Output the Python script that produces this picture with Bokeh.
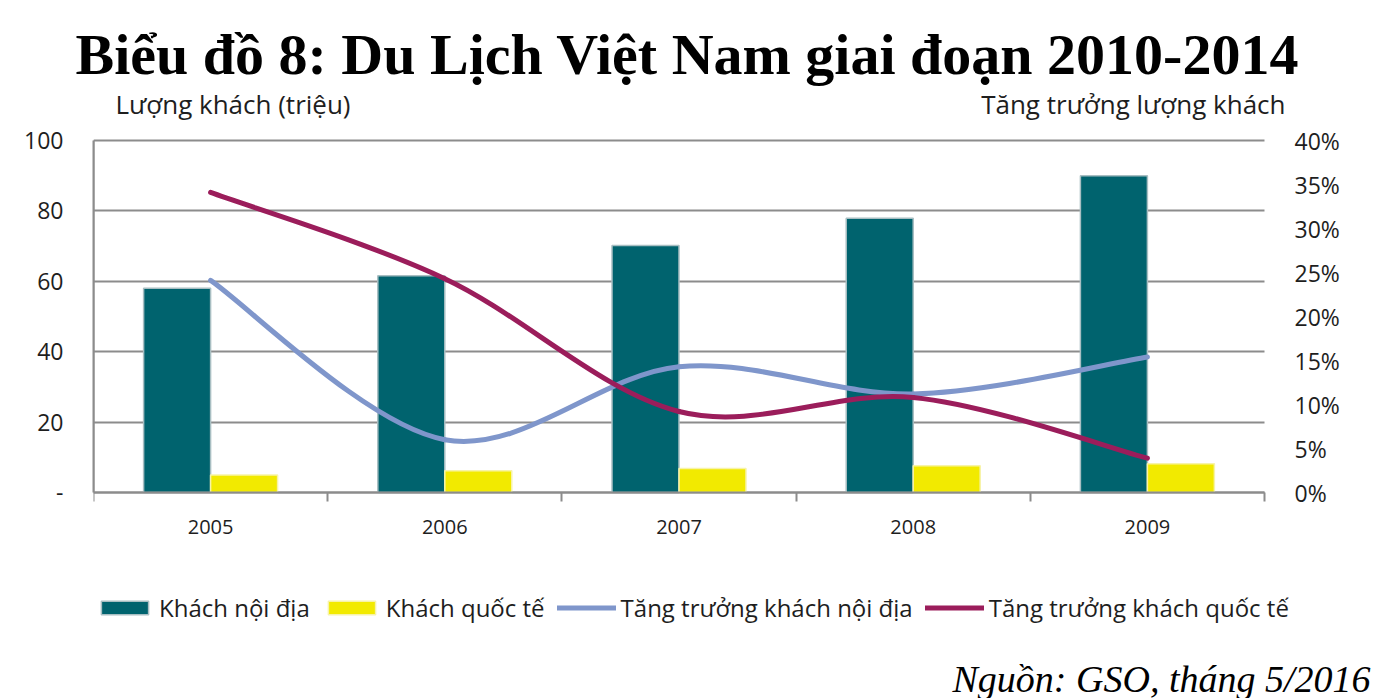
from bokeh.plotting import figure
from bokeh.models import (Range1d, LinearAxis, FixedTicker, NumeralTickFormatter,
                          Legend, LegendItem, ColumnDataSource, Title, Label)
from bokeh.transform import dodge
from bokeh.embed import file_html
from bokeh.resources import INLINE

# ---------------- data ----------------
years = ["2005", "2006", "2007", "2008", "2009"]
domestic = [58.0, 61.6, 70.2, 77.9, 90.0]          # Khách nội địa (triệu)
international = [5.0, 6.2, 6.8, 7.6, 8.2]          # Khách quốc tế (triệu)
growth_domestic = [0.241, 0.060, 0.143, 0.112, 0.154]       # Tăng trưởng khách nội địa
growth_international = [0.341, 0.243, 0.092, 0.108, 0.039]  # Tăng trưởng khách quốc tế
left_ticks = [0, 20, 40, 60, 80, 100]
right_ticks = [0.0, 0.05, 0.10, 0.15, 0.20, 0.25, 0.30, 0.35, 0.40]
axis_titles = ["Lượng khách (triệu)", "Tăng trưởng lượng khách"]

TEAL = "#00636E"
YELLOW = "#F2EA00"
BLUE = "#7F96CB"
RED = "#9B1D5B"
GRID = "#8C8C8C"
TXT = "#1E1E1E"

# layout geometry (pixels)
W, H = 1379, 698
LEFT, FRAME_TOP = 93, 90
PLOT_TOP, PLOT_BOTTOM = 140, 492
PLOT_W = 1171
PLOT_H = PLOT_BOTTOM - PLOT_TOP
FRAME_W, FRAME_H = W - LEFT, H - FRAME_TOP

n = len(years)
x_end = n * FRAME_W / PLOT_W
y_end = 100.0 * (1 + (PLOT_TOP - FRAME_TOP) / PLOT_H)
y_start = -100.0 * (H - PLOT_BOTTOM) / PLOT_H

centers = [i + 0.5 for i in range(n)]
bar_src = ColumnDataSource(dict(x=centers, dom=domestic, intl=international))


def smooth_segments(xs, ys):
    """Catmull-Rom -> cubic Bezier control points (Excel-like smoothed line)."""
    m = len(xs)
    d = dict(x0=[], y0=[], x1=[], y1=[], cx0=[], cy0=[], cx1=[], cy1=[])
    for i in range(m - 1):
        xp, yp = (xs[i - 1], ys[i - 1]) if i > 0 else (xs[i], ys[i])
        xn, yn = (xs[i + 2], ys[i + 2]) if i + 2 < m else (xs[i + 1], ys[i + 1])
        d["x0"].append(xs[i]); d["y0"].append(ys[i])
        d["x1"].append(xs[i + 1]); d["y1"].append(ys[i + 1])
        d["cx0"].append(xs[i] + (xs[i + 1] - xp) / 6.0)
        d["cy0"].append(ys[i] + (ys[i + 1] - yp) / 6.0)
        d["cx1"].append(xs[i + 1] - (xn - xs[i]) / 6.0)
        d["cy1"].append(ys[i + 1] - (yn - ys[i]) / 6.0)
    return ColumnDataSource(d)


p = figure(frame_width=FRAME_W, frame_height=FRAME_H,
           x_range=Range1d(0, x_end), y_range=Range1d(y_start, y_end),
           output_backend="svg", toolbar_location=None, title=None,
           min_border_left=LEFT, min_border_right=0, min_border_top=FRAME_TOP, min_border_bottom=0)
p.background_fill_color = "white"
p.border_fill_color = "white"
p.outline_line_color = None
p.extra_y_ranges = {"right": Range1d(y_start * 0.004, y_end * 0.004)}
p.xgrid.visible = False
p.ygrid.visible = False

# x axis drawn at value 0
xa = p.xaxis[0]
xa.fixed_location = 0
xa.bounds = (0, n)
xa.ticker = FixedTicker(ticks=centers, minor_ticks=list(range(n + 1)))
xa.major_label_overrides = {c: y for c, y in zip(centers, years)}
xa.axis_line_color = GRID
xa.axis_line_width = 2
xa.major_tick_line_color = None
xa.major_tick_out = 0
xa.major_tick_in = 0
xa.minor_tick_line_color = GRID
xa.minor_tick_line_width = 2
xa.minor_tick_out = 9
xa.minor_tick_in = 0
xa.major_label_standoff = 18
xa.major_label_text_font = "Open Sans"
xa.major_label_text_font_size = "20px"
xa.major_label_text_color = TXT

# left axis with the tick labels
ya = p.yaxis[0]
ya.bounds = (0, 100)
ya.ticker = FixedTicker(ticks=left_ticks)
ya.major_label_overrides = {0: "-"}
ya.axis_line_color = GRID
ya.axis_line_width = 2
ya.major_tick_line_color = None
ya.major_tick_out = 0
ya.major_tick_in = 0
ya.minor_tick_line_color = None
ya.major_label_standoff = 30
ya.major_label_text_font = "Open Sans"
ya.major_label_text_font_size = "23px"
ya.major_label_text_color = TXT

# helper axis under the glyphs: its long inward ticks are the horizontal gridlines
ga = LinearAxis(fixed_location=0, level="underlay", bounds=(0, 100),
                ticker=FixedTicker(ticks=left_ticks))
ga.axis_line_color = GRID
ga.axis_line_width = 2
ga.major_tick_line_color = GRID
ga.major_tick_line_width = 2
ga.major_tick_out = 0
ga.major_tick_in = PLOT_W
ga.minor_tick_line_color = None
ga.major_label_standoff = 0
ga.major_label_text_font_size = "0px"
ga.major_label_text_alpha = 0
p.add_layout(ga, "left")

ra = LinearAxis(y_range_name="right", ticker=FixedTicker(ticks=right_ticks),
                formatter=NumeralTickFormatter(format="0%"), fixed_location=n, bounds=(0, 0.4))
ra.axis_line_color = None
ra.major_tick_line_color = None
ra.minor_tick_line_color = None
ra.major_tick_out = 0
ra.major_tick_in = 0
ra.major_label_standoff = 30
ra.major_label_text_font = "Open Sans"
ra.major_label_text_font_size = "23px"
ra.major_label_text_color = TXT
p.add_layout(ra, "right")

main_title = Title(text="Biểu đồ 8: Du Lịch Việt Nam giai đoạn 2010-2014", align="left",
                   text_font="Liberation Serif", text_font_style="bold", text_font_size="58px",
                   text_color="black", standoff=8, offset=-18)
p.add_layout(main_title, "above")

bw = 0.286
r_dom = p.vbar(x=dodge("x", -bw / 2, range=p.x_range), top="dom", width=bw, source=bar_src,
               fill_color=TEAL, line_color="#A8BEC2", line_width=1.5)
r_int = p.vbar(x=dodge("x", bw / 2, range=p.x_range), top="intl", width=bw, source=bar_src,
               fill_color=YELLOW, line_color="#F7F3A8", line_width=1.5)

r_gd = p.bezier(x0="x0", y0="y0", x1="x1", y1="y1", cx0="cx0", cy0="cy0", cx1="cx1", cy1="cy1",
                source=smooth_segments(centers, growth_domestic), y_range_name="right",
                line_color=BLUE, line_width=5, line_cap="round")
r_gi = p.bezier(x0="x0", y0="y0", x1="x1", y1="y1", cx0="cx0", cy0="cy0", cx1="cx1", cy1="cy1",
                source=smooth_segments(centers, growth_international), y_range_name="right",
                line_color=RED, line_width=5, line_cap="round")

legend = Legend(items=[
    LegendItem(label="Khách nội địa", renderers=[r_dom]),
    LegendItem(label="Khách quốc tế", renderers=[r_int]),
    LegendItem(label="Tăng trưởng khách nội địa", renderers=[r_gd]),
    LegendItem(label="Tăng trưởng khách quốc tế", renderers=[r_gi]),
], orientation="horizontal", location=(2, 74))
legend.border_line_color = None
legend.background_fill_alpha = 0
legend.glyph_width = 59
legend.glyph_height = 17
legend.label_standoff = 5
legend.spacing = 12
legend.padding = 0
legend.margin = 0
legend.label_text_font = "Open Sans"
legend.label_text_font_size = "24px"
legend.label_text_color = TXT
p.add_layout(legend)

# axis titles
p.add_layout(Label(x=22, y=H - 103, x_units="screen", y_units="screen", text=axis_titles[0],
                   text_font="Open Sans", text_font_size="26px", text_align="left",
                   text_baseline="middle", text_color=TXT))
p.add_layout(Label(x=1192, y=H - 103, x_units="screen", y_units="screen", text=axis_titles[1],
                   text_font="Open Sans", text_font_size="26px", text_align="right",
                   text_baseline="middle", text_color=TXT))

# source note
p.add_layout(Label(x=FRAME_W - 9, y=20, x_units="screen", y_units="screen",
                   text="Nguồn: GSO, tháng 5/2016", text_font="Liberation Serif",
                   text_font_style="italic", text_font_size="38px",
                   text_align="right", text_baseline="middle", text_color="black"))

open("out.html", "w").write(file_html(p, INLINE))
